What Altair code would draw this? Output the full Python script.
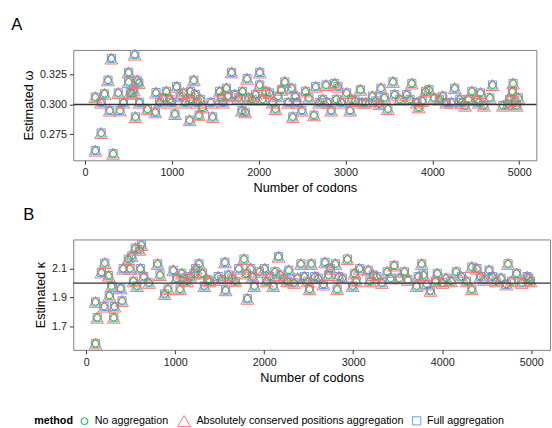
import altair as alt
import pandas as pd

methods = ["No aggregation", "Absolutely conserved positions aggregation", "Full aggregation"]
colors = ["#00BA38", "#F8766D", "#619CFF"]
shapes = ["circle", "triangle-up", "square"]

# Panel A: estimated omega vs number of codons
a_codons = [119, 119, 186, 186, 265, 304, 324, 285, 225, 383, 403, 443, 502, 502, 522, 573, 581, 601,
            628, 620, 541, 561, 719, 810, 818, 858, 937, 976, 1036, 1055, 1095, 1154, 1206, 1214, 1253,
            1273, 1293, 1312, 1352, 1470, 1550, 1589, 1629, 1688, 1727, 1806, 1814, 1866, 1846, 1925,
            2012, 2012, 2083, 2162, 2194, 2261, 2301, 2340, 2380, 2392, 2439, 2498, 2538, 2637, 2656,
            2696, 2775, 2795, 2834, 2874, 2913, 2953, 3012, 3052, 3111, 3170, 3230, 3309, 3388, 3408,
            3487, 3546, 3566, 3704, 3763, 3823, 3842, 3921, 3961, 4020, 4119, 4159, 4257, 4316, 4376,
            4455, 4514, 4553, 4593, 4692, 4661, 4811, 4890, 4922, 4929, 4969, 4989,
            1214, 1332, 1134, 996, 897, 1450, 1569, 1648, 1767, 1885, 1965, 2044, 2123, 2222, 2420,
            2578, 2736, 2894, 3072, 3190, 3348, 3447, 3625, 3743, 3882, 4080, 4218, 4336, 4415, 4534,
            4870, 4949]
a_omega = [0.3062, 0.2612, 0.2760, 0.3016, 0.3204, 0.3387, 0.2586, 0.2949, 0.3090, 0.3097, 0.2950,
           0.3016, 0.3270, 0.3190, 0.3100, 0.3420, 0.2895, 0.3204, 0.3016, 0.3180, 0.3090, 0.3120,
           0.2960, 0.2935, 0.3100, 0.3016, 0.3110, 0.3043, 0.2920, 0.3150, 0.3070, 0.3016, 0.2868,
           0.3110, 0.3204, 0.3083, 0.3016, 0.2909, 0.2976, 0.2895, 0.3110, 0.3016, 0.3137, 0.3270,
           0.3083, 0.2949, 0.3110, 0.3217, 0.2935, 0.3043, 0.3270, 0.3164, 0.3110, 0.3016, 0.2962,
           0.3124, 0.3190, 0.3016, 0.3137, 0.2895, 0.3016, 0.2949, 0.3110, 0.2909, 0.3150, 0.3016,
           0.3164, 0.3016, 0.2949, 0.3177, 0.3150, 0.3016, 0.3097, 0.2949, 0.3030, 0.3124, 0.3016,
           0.3070, 0.3003, 0.3137, 0.2962, 0.3190, 0.3083, 0.3083, 0.3177, 0.3016, 0.2976, 0.3110,
           0.3124, 0.3056, 0.3070, 0.3016, 0.3137, 0.3043, 0.2990, 0.3110, 0.3043, 0.3097, 0.2990,
           0.3164, 0.3056, 0.2990, 0.3043, 0.3110, 0.3177, 0.2990, 0.3056,
           0.3043, 0.3043, 0.3097, 0.3016, 0.3056, 0.3016, 0.3056, 0.3070, 0.3056, 0.3056, 0.3083,
           0.3043, 0.3097, 0.3070, 0.3070, 0.3056, 0.3043, 0.3043, 0.3043, 0.3016, 0.3030, 0.3056,
           0.3043, 0.3043, 0.3030, 0.3043, 0.3016, 0.3016, 0.3043, 0.3016, 0.3003, 0.3030]

# Panel B: estimated kappa vs number of codons
b_codons = [105, 105, 124, 171, 209, 202, 252, 260, 287, 310, 318, 388, 403, 415, 473, 493, 512, 531,
            551, 570, 597, 621, 609, 648, 706, 803, 830, 881, 919, 978, 1016, 1055, 1074, 1133, 1171,
            1230, 1268, 1307, 1327, 1365, 1482, 1559, 1567, 1598, 1676, 1715, 1773, 1800, 1812, 1850,
            1889, 1947, 2005, 2025, 2102, 2122, 2161, 2219, 2277, 2335, 2413, 2452, 2510, 2529, 2568,
            2665, 2684, 2742, 2801, 2820, 2839, 2936, 2994, 3014, 3072, 3169, 3188, 3227, 3324, 3382,
            3460, 3518, 3576, 3712, 3770, 3790, 3828, 3867, 3945, 4042, 4100, 4158, 4216, 4333, 4333,
            4391, 4469, 4527, 4566, 4605, 4721, 4740, 4837, 4895, 4953, 4992,
            1094, 1210, 1385, 1520, 1637, 1870, 2063, 2180, 2258, 2374, 2490, 2607, 2723, 2878, 3033,
            3266, 3421, 3615, 3731, 3925, 4003, 4275, 4430, 4662, 4779, 4973]
b_kappa = [1.582, 1.870, 1.761, 2.074, 2.139, 1.838, 2.052, 1.914, 1.980, 1.761, 1.838, 1.964, 1.877,
           2.100, 2.166, 2.100, 2.187, 2.013, 2.242, 1.980, 2.231, 2.264, 2.100, 2.045, 2.002, 2.133,
           2.056, 1.925, 1.958, 2.089, 2.034, 1.958, 2.067, 2.013, 2.045, 2.100, 2.133, 2.067, 1.980,
           2.023, 2.045, 2.144, 1.951, 2.056, 2.013, 2.100, 2.166, 2.067, 1.892, 2.100, 1.980, 2.078,
           2.100, 2.013, 1.980, 2.078, 2.183, 2.034, 2.089, 2.002, 2.133, 2.045, 1.958, 2.133, 2.045,
           1.991, 2.144, 2.100, 2.133, 1.958, 2.045, 2.166, 1.980, 2.067, 2.100, 2.089, 2.013, 2.056,
           2.002, 2.078, 2.122, 2.034, 2.078, 1.980, 2.133, 2.056, 1.991, 1.947, 2.067, 2.034, 2.013,
           2.078, 2.045, 1.958, 2.111, 2.100, 2.023, 2.089, 2.045, 2.013, 1.991, 2.133, 2.067, 2.002,
           2.045, 2.013,
           2.034, 2.067, 2.013, 2.023, 2.034, 2.045, 2.045, 2.056, 2.013, 2.034, 2.013, 2.034, 2.056,
           2.034, 2.013, 2.045, 2.034, 2.023, 2.045, 2.013, 2.002, 2.013, 2.045, 2.034, 2.013, 2.034]

draw_order = ["Full aggregation", "No aggregation", "Absolutely conserved positions aggregation"]
marker_sizes = [50, 170, 70]


def make_df(xs, ys):
    rows = []
    for m in draw_order:
        for x, y in zip(xs, ys):
            rows.append({"codons": x, "value": y, "method": m})
    return pd.DataFrame(rows)


df_a = make_df(a_codons, a_omega)
df_b = make_df(b_codons, b_kappa)

color_scale = alt.Scale(domain=methods, range=colors)
shape_scale = alt.Scale(domain=methods, range=shapes)
size_scale = alt.Scale(type="ordinal", domain=methods, range=marker_sizes)

legend = alt.Legend(
    orient="none", legendX=-40, legendY=372, direction="horizontal",
    titleOrient="left", title="method", titleFontSize=11, titleFontWeight="bold",
    labelFontSize=11, symbolSize=110, symbolStrokeWidth=1, columnPadding=6,
    labelLimit=240, titleColor="black", labelColor="black", padding=0, titlePadding=6,
    labelOffset=5,
)


def panel(df, ref, ydom, yticks, yfmt, ytitle, letter, xdom, width):
    base_x = alt.X("codons:Q", title="Number of codons",
                   scale=alt.Scale(domain=xdom, nice=False, zero=False),
                   axis=alt.Axis(values=[0, 1000, 2000, 3000, 4000, 5000], format="d"))
    pts = alt.Chart(df).mark_point(filled=False, strokeWidth=1, opacity=1).encode(
        x=base_x,
        y=alt.Y("value:Q", title=ytitle,
                scale=alt.Scale(domain=ydom, nice=False, zero=False),
                axis=alt.Axis(values=yticks, format=yfmt)),
        color=alt.Color("method:N", scale=color_scale, legend=legend, sort=methods),
        shape=alt.Shape("method:N", scale=shape_scale, legend=legend, sort=methods),
        size=alt.Size("method:N", scale=size_scale, legend=None),
    )
    rule = alt.Chart(pd.DataFrame({"value": [ref]})).mark_rule(
        color="#333333", strokeWidth=1.5).encode(y="value:Q")
    return alt.layer(pts, rule).properties(
        width=width, height=113,
        title=alt.TitleParams(letter, anchor="start", frame="bounds", fontSize=17,
                              fontWeight="normal", dx=-12, offset=14, color="black"),
    )


chart_a = panel(df_a, 0.300, [0.253, 0.3459], [0.275, 0.300, 0.325], ".3f",
                "Estimated ω", "A", [-135, 5197], 474)
chart_b = panel(df_b, 2.0, [1.538, 2.302], [1.7, 1.9, 2.1], ".1f",
                "Estimated κ", "B", [-145, 5212], 488)

chart = alt.vconcat(chart_a, chart_b, spacing=10).resolve_scale(
    color="shared", shape="shared"
).configure(
    font="Liberation Sans",
    padding={"left": 10, "top": 10, "right": 0, "bottom": 0},
).configure_view(
    stroke="#7F7F7F", strokeWidth=1,
).configure_axis(
    grid=False, domain=False, labelFontSize=11, titleFontSize=13, titleFontWeight="normal",
    labelColor="#222222", titleColor="black", tickColor="#333333", tickSize=4,
    labelPadding=3, titlePadding=4,
)

chart.save("out.html", embed_options={"renderer": "svg", "actions": False})
